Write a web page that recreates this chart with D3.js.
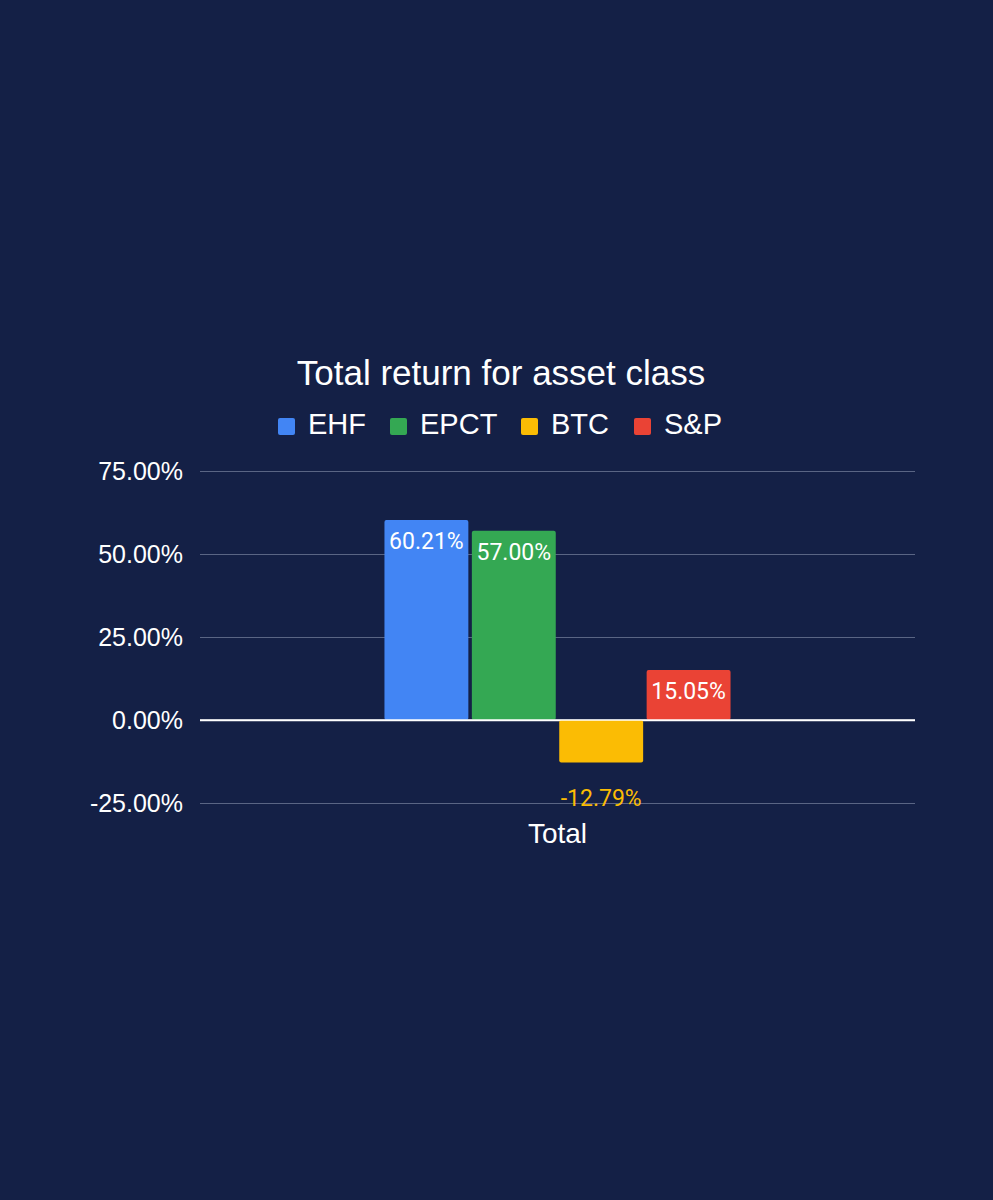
<!doctype html>
<html>
<head>
<style>
  body { margin: 0; background: #142046; }
  svg { display: block; }
</style>
<script src="https://d3js.org/d3.v7.min.js"></script>
</head>
<body>
<svg width="993" height="1200"></svg>
<script>
  // chart data
  var categories = ["Total"];
  var series = ["EHF", "EPCT", "BTC", "S&P"];
  var values = [60.21, 57.00, -12.79, 15.05];
  var colors = ["#4285F4", "#34A853", "#FBBC04", "#EA4335"];
  var yTicks = [-25, 0, 25, 50, 75];

  var svg = d3.select("svg");
  var plotLeft = 200, plotRight = 915, plotTop = 471, plotBottom = 803;

  svg.append("rect").attr("width", 993).attr("height", 1200).attr("fill", "#142046");

  var y = d3.scaleLinear().domain([-25, 75]).range([plotBottom, plotTop]);
  var x0 = d3.scaleBand().domain(categories).range([plotLeft, plotRight]).paddingOuter(0.533);
  var x1 = d3.scaleBand().domain(series).range([0, x0.bandwidth()]).paddingInner(0.04);

  // title
  svg.append("text")
     .attr("x", 501).attr("y", 385)
     .attr("text-anchor", "middle")
     .attr("font-family", "Liberation Sans, Arial, sans-serif")
     .attr("font-size", "35px")
     .attr("fill", "#ffffff")
     .text("Total return for asset class");

  // legend
  var legendX = [278, 390, 521, 634];
  var legend = svg.append("g");
  series.forEach(function(s, i) {
    legend.append("rect")
          .attr("x", legendX[i]).attr("y", 418)
          .attr("width", 17).attr("height", 17).attr("rx", 2)
          .attr("fill", colors[i]);
    legend.append("text")
          .attr("x", legendX[i] + 30).attr("y", 434)
          .attr("font-family", "Liberation Sans, Arial, sans-serif")
          .attr("font-size", "29px")
          .attr("fill", "#ffffff")
          .text(s);
  });

  // grid + y axis
  var yAxis = svg.append("g")
     .attr("transform", "translate(" + plotLeft + ",0)")
     .call(d3.axisLeft(y).tickValues(yTicks)
             .tickSize(-(plotRight - plotLeft)).tickPadding(17)
             .tickFormat(function(d) { return d.toFixed(2) + "%"; }));
  yAxis.select(".domain").remove();
  yAxis.selectAll(".tick line")
       .attr("stroke", function(d) { return d === 0 ? "#ffffff" : "#5a6584"; })
       .attr("stroke-width", function(d) { return d === 0 ? 1.5 : 1; });
  yAxis.selectAll(".tick text")
       .attr("font-family", "Liberation Sans, Arial, sans-serif")
       .attr("font-size", "25px")
       .attr("fill", "#ffffff");

  // bars
  var data = series.map(function(s, i) { return { name: s, value: values[i], color: colors[i] }; });
  var g = svg.append("g").attr("transform", "translate(" + x0("Total") + ",0)");

  g.selectAll(".bar")
   .data(data)
   .enter().append("rect")
   .attr("class", "bar")
   .attr("x", function(d) { return x1(d.name); })
   .attr("y", function(d) { return y(Math.max(0, d.value)); })
   .attr("width", x1.bandwidth())
   .attr("height", function(d) { return Math.abs(y(d.value) - y(0)); })
   .attr("rx", 2)
   .attr("fill", function(d) { return d.color; });

  // redraw zero line over bars
  svg.append("line")
     .attr("x1", plotLeft).attr("x2", plotRight)
     .attr("y1", y(0)).attr("y2", y(0))
     .attr("stroke", "#ffffff").attr("stroke-width", 1.5);

  g.selectAll(".label")
   .data(data)
   .enter().append("text")
   .attr("class", "label")
   .attr("x", function(d) { return x1(d.name) + x1.bandwidth() / 2; })
   .attr("y", function(d) { return d.value >= 0 ? y(d.value) + 29 : y(d.value) + 44; })
   .attr("text-anchor", "middle")
   .attr("font-family", "Roboto, sans-serif")
   .attr("font-size", "23px")
   .attr("fill", function(d) { return d.value >= 0 ? "#ffffff" : d.color; })
   .text(function(d) { return d.value.toFixed(2) + "%"; });

  // x category label
  svg.append("text")
     .attr("x", x0("Total") + x0.bandwidth() / 2).attr("y", 843)
     .attr("text-anchor", "middle")
     .attr("font-family", "Liberation Sans, Arial, sans-serif")
     .attr("font-size", "28px")
     .attr("fill", "#ffffff")
     .text("Total");
</script>
</body>
</html>
